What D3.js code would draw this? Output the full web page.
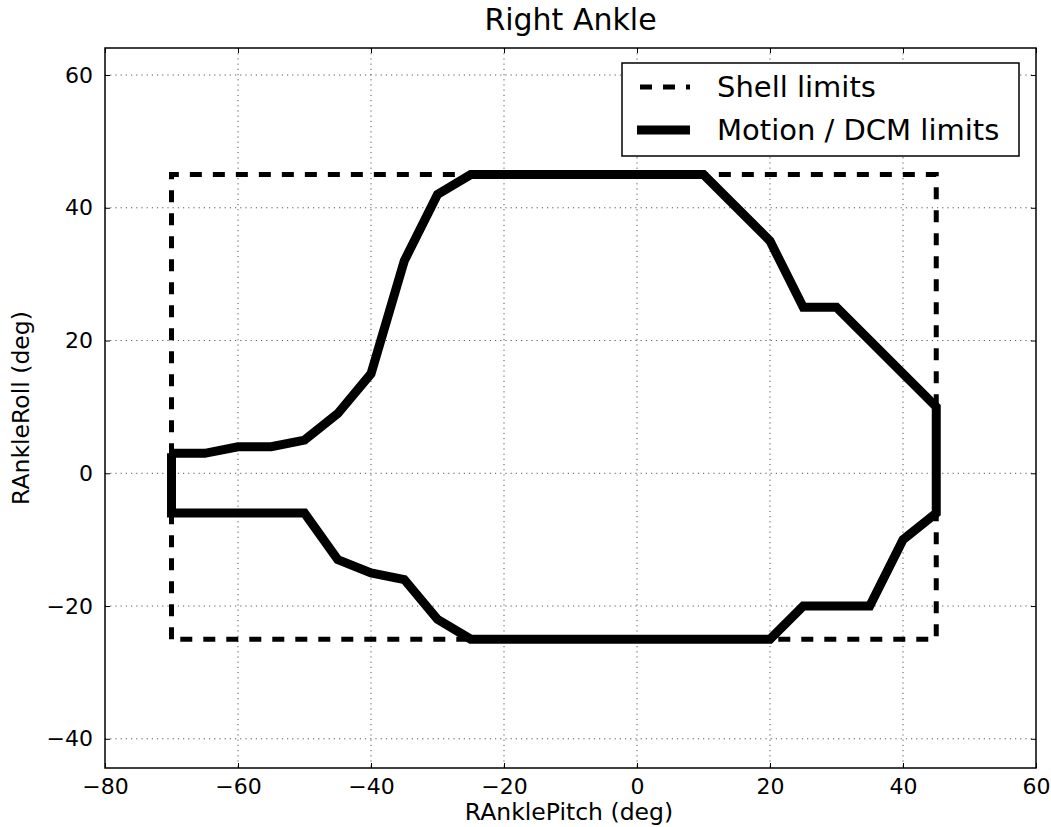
<!DOCTYPE html>
<html>
<head>
<meta charset="utf-8">
<script src="https://cdn.jsdelivr.net/npm/d3@7"></script>
<style>
  html, body { margin: 0; padding: 0; background: #fff; }
  svg { display: block; font-family: "DejaVu Sans", sans-serif; }
</style>
</head>
<body>
<svg id="chart" width="1051" height="827"></svg>
<script>
// Ankle joint limits: pitch (x) vs roll (y), degrees
const shellPitch = [-70, -70, 45, 45, -70];
const shellRoll  = [-25, 45, 45, -25, -25];

const motionPitch = [-70, -65, -60, -55, -50, -45, -40, -35, -30, -25, 10, 20, 25, 30, 45,
                     45, 40, 35, 25, 20, -25, -30, -35, -40, -45, -50, -70, -70];
const motionRoll  = [3, 3, 4, 4, 5, 9, 15, 32, 42, 45, 45, 35, 25, 25, 10,
                     -6, -10, -20, -20, -25, -25, -22, -16, -15, -13, -6, -6, 3];

const xTicks = [-80, -60, -40, -20, 0, 20, 40, 60];
const yTicks = [-40, -20, 0, 20, 40, 60];
const legendLabels = ["Shell limits", "Motion / DCM limits"];

const svg = d3.select("#chart");
const m = { left: 105, top: 48, right: 1036, bottom: 768 };

const x = d3.scaleLinear().domain([-80, 60]).range([m.left, m.right]);
const y = d3.scaleLinear().domain([-44.4, 64.07]).range([m.bottom, m.top]);

// grid
const grid = svg.append("g").attr("stroke", "#555").attr("stroke-width", 1)
  .attr("stroke-dasharray", "1.2,4");
grid.selectAll(".gx").data(xTicks.slice(1, -1)).join("line")
  .attr("x1", d => x(d)).attr("x2", d => x(d)).attr("y1", m.top).attr("y2", m.bottom);
grid.selectAll(".gy").data(yTicks).join("line")
  .attr("x1", m.left).attr("x2", m.right).attr("y1", d => y(d)).attr("y2", d => y(d));

// axes with inward ticks
const tickStyle = g => {
  g.select(".domain").remove();
  g.selectAll("line").attr("stroke", "#000").attr("stroke-width", 1);
  g.selectAll("text").attr("font-size", 22).attr("fill", "#000")
    .attr("font-family", "DejaVu Sans, sans-serif");
};
svg.append("g").attr("transform", `translate(0,${m.bottom})`)
  .call(d3.axisBottom(x).tickValues(xTicks).tickSize(-5).tickPadding(10).tickFormat(d3.format("d")))
  .call(tickStyle);
svg.append("g").attr("transform", `translate(0,${m.top})`)
  .call(d3.axisTop(x).tickValues(xTicks).tickSize(-5).tickFormat(""))
  .call(tickStyle);
svg.append("g").attr("transform", `translate(${m.left},0)`)
  .call(d3.axisLeft(y).tickValues(yTicks).tickSize(-5).tickPadding(12).tickFormat(d3.format("d")))
  .call(tickStyle);
svg.append("g").attr("transform", `translate(${m.right},0)`)
  .call(d3.axisRight(y).tickValues(yTicks).tickSize(-5).tickFormat(""))
  .call(tickStyle);

// limit curves
const line = d3.line().x(d => x(d[0])).y(d => y(d[1]));
const shell = shellPitch.map((p, i) => [p, shellRoll[i]]);
const motion = motionPitch.map((p, i) => [p, motionRoll[i]]);

svg.append("path").datum(shell).attr("d", line)
  .attr("fill", "none").attr("stroke", "#000").attr("stroke-width", 5)
  .attr("stroke-dasharray", "12,11");
svg.append("path").datum(motion).attr("d", line)
  .attr("fill", "none").attr("stroke", "#000").attr("stroke-width", 9)
  .attr("stroke-linejoin", "miter");

// frame
svg.append("rect").attr("x", m.left).attr("y", m.top)
  .attr("width", m.right - m.left).attr("height", m.bottom - m.top)
  .attr("fill", "none").attr("stroke", "#000").attr("stroke-width", 1.5);

// legend
const lg = svg.append("g");
lg.append("rect").attr("x", 622).attr("y", 63).attr("width", 397).attr("height", 93)
  .attr("fill", "#fff").attr("stroke", "#000").attr("stroke-width", 1.5);
lg.append("line").attr("x1", 640).attr("x2", 690).attr("y1", 87).attr("y2", 87)
  .attr("stroke", "#000").attr("stroke-width", 5).attr("stroke-dasharray", "12,11");
lg.append("line").attr("x1", 637).attr("x2", 690).attr("y1", 130).attr("y2", 130)
  .attr("stroke", "#000").attr("stroke-width", 9);
lg.selectAll("text").data(legendLabels).join("text")
  .attr("x", 717).attr("y", (d, i) => 87 + i * 43).attr("dy", "0.35em")
  .attr("font-size", 29).text(d => d);

// title and axis labels
svg.append("text").attr("x", (m.left + m.right) / 2).attr("y", 30)
  .attr("text-anchor", "middle").attr("font-size", 30).text("Right Ankle");
svg.append("text").attr("x", 569).attr("y", 820)
  .attr("text-anchor", "middle").attr("font-size", 23.5).text("RAnklePitch (deg)");
svg.append("text").attr("transform", `translate(29,${(m.top + m.bottom) / 2}) rotate(-90)`)
  .attr("text-anchor", "middle").attr("font-size", 23.5).text("RAnkleRoll (deg)");
</script>
</body>
</html>
